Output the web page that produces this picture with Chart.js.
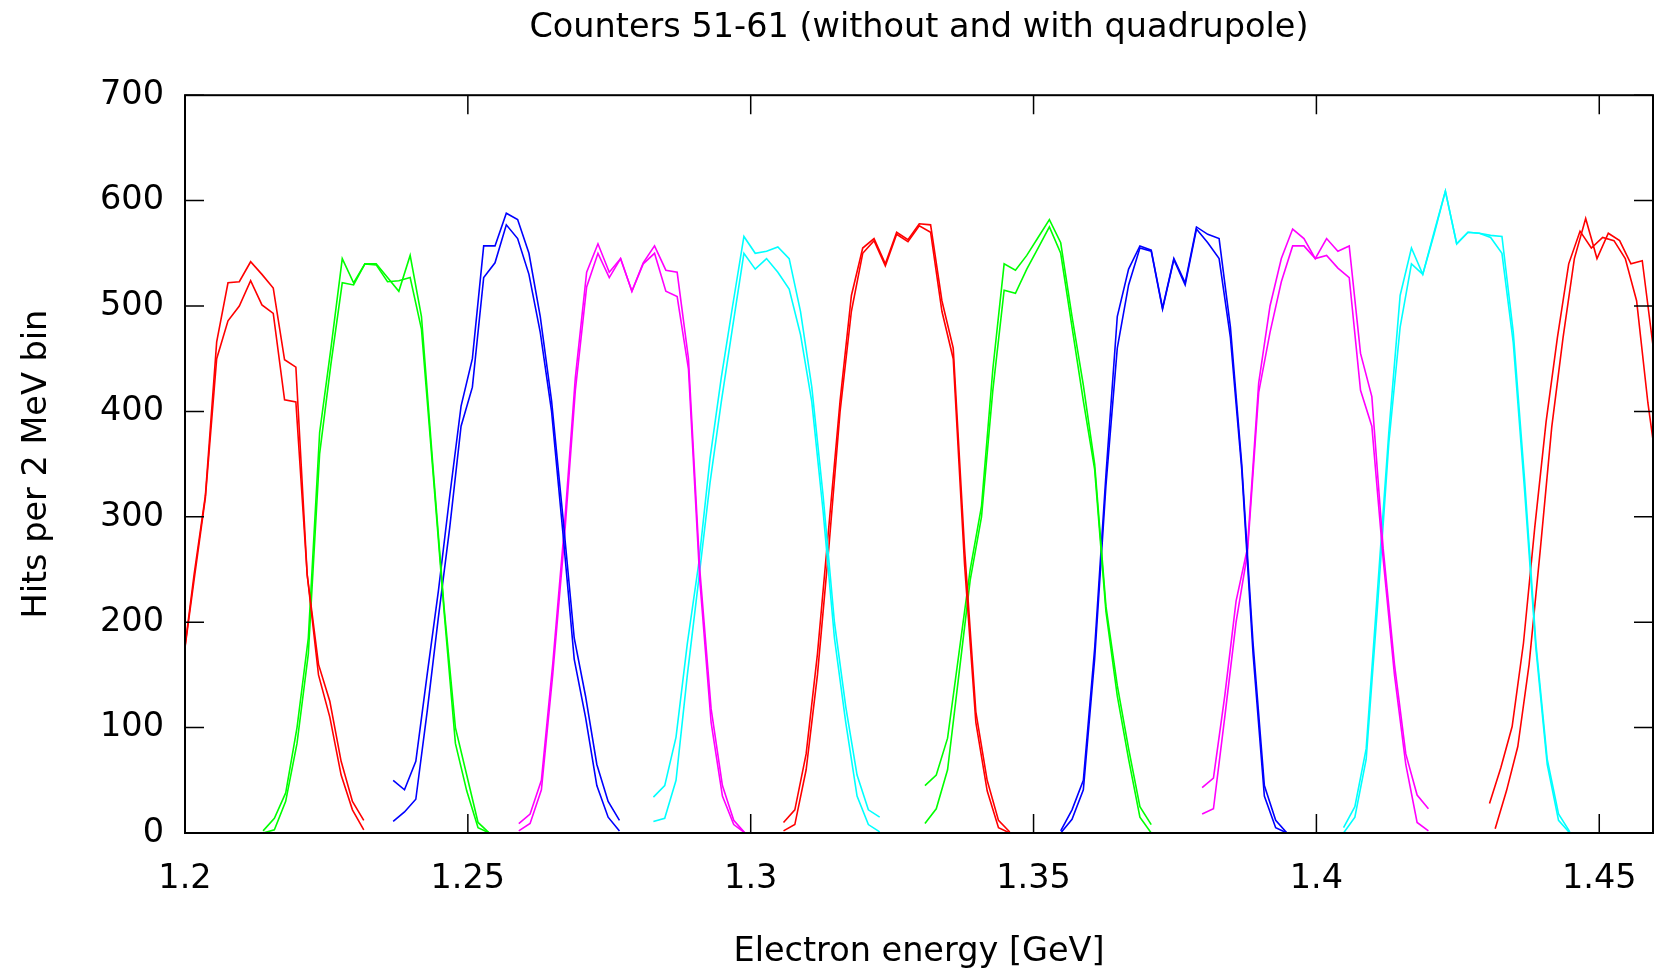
<!DOCTYPE html>
<html>
<head>
<meta charset="utf-8">
<title>Counters 51-61</title>
<script src="https://cdn.jsdelivr.net/npm/chart.js@4.4.1/dist/chart.umd.min.js"></script>
<style>
  html, body { margin: 0; padding: 0; background: #fff; }
</style>
</head>
<body>
<canvas id="myChart" width="1655" height="974"></canvas>
<script>
// data: hits per 2 MeV bin for each counter, without and with quadrupole

const binWidth = 0.002;
const counterNames = ["51", "52", "53", "54", "55", "56", "57", "58", "59", "60", "61"];
// energy of the first bin of each run
const firstBinWithout = [1.1996, 1.2138, 1.2368, 1.2590, 1.2828, 1.3058, 1.3308, 1.3548, 1.3798, 1.4048, 1.4306];
const firstBinWith = [1.1996, 1.2138, 1.2368, 1.2590, 1.2828, 1.3058, 1.3308, 1.3548, 1.3798, 1.4048, 1.4316];
const counterColors = ["#ff0000", "#00ff00", "#0000ff", "#ff00ff", "#00ffff",
  "#ff0000", "#00ff00", "#0000ff", "#ff00ff", "#00ffff", "#ff0000"];

const c51Without = [160, 245, 320, 466, 522, 523, 542, 530, 517, 449, 442, 245, 160, 125, 68, 30, 12];
const c51With = [160, 240, 318, 450, 486, 500, 524, 501, 493, 411, 409, 245, 150, 110, 55, 22, 3];
const c52Without = [2, 14, 38, 100, 185, 380, 460, 545, 522, 540, 540, 527, 514, 548, 490, 350, 214, 100, 55, 10, 0];
const c52With = [0, 3, 30, 85, 170, 360, 445, 522, 520, 540, 539, 523, 524, 527, 478, 345, 210, 85, 40, 5, 0];
const c53Without = [50, 41, 68, 150, 230, 320, 405, 450, 557, 557, 588, 582, 550, 490, 410, 300, 185, 130, 65, 30, 12];
const c53With = [11, 20, 32, 115, 205, 290, 386, 423, 527, 541, 577, 564, 530, 475, 400, 285, 165, 110, 45, 15, 2];
const c54Without = [9, 18, 50, 160, 286, 432, 532, 559, 532, 545, 514, 541, 557, 534, 532, 450, 250, 118, 45, 12, 0];
const c54With = [2, 9, 41, 150, 275, 420, 518, 550, 527, 545, 514, 540, 550, 514, 509, 440, 240, 105, 35, 8, 0];
const c55Without = [34, 45, 91, 180, 255, 355, 432, 500, 566, 550, 552, 556, 545, 495, 423, 320, 200, 120, 55, 22, 15];
const c55With = [11, 14, 50, 150, 240, 332, 409, 480, 550, 535, 545, 532, 516, 473, 409, 305, 185, 105, 35, 8, 1];
const c56Without = [10, 22, 75, 170, 290, 410, 510, 555, 564, 540, 570, 563, 578, 577, 505, 460, 270, 115, 50, 12, 1];
const c56With = [2, 8, 60, 150, 270, 400, 495, 550, 562, 538, 568, 561, 576, 570, 495, 450, 255, 105, 40, 5, 0];
const c57Without = [45, 55, 90, 170, 250, 310, 440, 540, 534, 548, 565, 582, 560, 490, 425, 350, 215, 140, 80, 25, 8];
const c57With = [9, 23, 60, 150, 240, 300, 420, 515, 512, 535, 555, 575, 550, 480, 410, 345, 210, 130, 70, 15, 0];
const c58Without = [2, 22, 50, 175, 340, 490, 535, 557, 553, 498, 545, 522, 575, 568, 564, 480, 350, 180, 45, 12, 0];
const c58With = [0, 13, 41, 165, 330, 460, 520, 555, 552, 497, 544, 520, 573, 560, 545, 470, 345, 170, 35, 5, 0];
const c59Without = [43, 52, 130, 220, 270, 427, 500, 545, 573, 564, 545, 564, 552, 557, 455, 414, 270, 160, 75, 36, 23];
const c59With = [18, 23, 110, 200, 265, 418, 475, 523, 557, 557, 545, 548, 536, 527, 420, 386, 260, 150, 65, 10, 2];
const c60Without = [5, 25, 80, 230, 380, 510, 555, 530, 570, 609, 559, 570, 569, 567, 566, 475, 335, 180, 70, 18, 1];
const c60With = [0, 15, 70, 215, 370, 480, 540, 530, 568, 609, 559, 570, 569, 565, 550, 465, 325, 175, 65, 12, 0];
const c61Without = [28, 62, 101, 180, 290, 390, 470, 540, 571, 555, 565, 562, 545, 505, 408, 330];
const c61With = [4, 40, 82, 160, 270, 385, 470, 545, 583, 545, 569, 562, 540, 543, 458, 380];

const withoutRuns = [c51Without, c52Without, c53Without, c54Without, c55Without, c56Without,
  c57Without, c58Without, c59Without, c60Without, c61Without];
const withRuns = [c51With, c52With, c53With, c54With, c55With, c56With,
  c57With, c58With, c59With, c60With, c61With];

// x axis and y axis ranges
const xMin = 1.2;
const xMax = 1.4595;
const yMin = 0;
const yMax = 700;

// functional logic

// turn one run of bin contents into {x, y} points
function binsToPoints(start, values) {
  return values.map((v, i) => ({ x: start + i * binWidth, y: v }));
}

function makeDataset(label, color, start, values) {
  return {
    label: label,
    data: binsToPoints(start, values),
    borderColor: color,
    backgroundColor: color,
    borderWidth: 1.6,
    pointRadius: 0,
    fill: false,
    tension: 0,
  };
}

let datasets = [];
for (let i = 0; i < counterNames.length; i++) {
  datasets.push(makeDataset(counterNames[i] + " without", counterColors[i], firstBinWithout[i], withoutRuns[i]));
  datasets.push(makeDataset(counterNames[i] + " with", counterColors[i], firstBinWith[i], withRuns[i]));
}

// gnuplot style frame: border plus inward ticks on all four sides
const frameTicks = {
  id: "frameTicks",
  afterDatasetsDraw(chart) {
    const { ctx, chartArea, scales } = chart;
    const len = 19;
    ctx.save();
    ctx.strokeStyle = "#000";
    ctx.lineWidth = 1.5;
    ctx.beginPath();
    scales.x.ticks.forEach((t) => {
      const px = scales.x.getPixelForValue(t.value);
      ctx.moveTo(px, chartArea.bottom);
      ctx.lineTo(px, chartArea.bottom - len);
      ctx.moveTo(px, chartArea.top);
      ctx.lineTo(px, chartArea.top + len);
    });
    scales.y.ticks.forEach((t) => {
      const py = scales.y.getPixelForValue(t.value);
      ctx.moveTo(chartArea.left, py);
      ctx.lineTo(chartArea.left + len, py);
      ctx.moveTo(chartArea.right, py);
      ctx.lineTo(chartArea.right - len, py);
    });
    ctx.stroke();
    ctx.lineWidth = 2;
    ctx.strokeRect(chartArea.left, chartArea.top,
      chartArea.right - chartArea.left, chartArea.bottom - chartArea.top);
    ctx.restore();
  },
};

const fontFamily = "'DejaVu Sans', sans-serif";
const fontSize = 33.5;

const config = {
  type: "line",
  data: { datasets: datasets },
  options: {
    responsive: false,
    animation: false,
    devicePixelRatio: 1,
    layout: { padding: { left: 0, right: 2, top: 0, bottom: 0 } },
    plugins: {
      legend: { display: false },
      tooltip: { enabled: false },
      title: {
        display: true,
        text: "Counters 51-61 (without and with quadrupole)",
        color: "#000",
        fullSize: false,
        font: { family: fontFamily, size: fontSize, weight: "normal" },
        padding: { top: 8, bottom: 47 },
      },
    },
    scales: {
      x: {
        type: "linear",
        min: xMin,
        max: xMax,
        grid: { display: false, drawTicks: false },
        border: { display: false },
        ticks: {
          stepSize: 0.05,
          includeBounds: false,
          color: "#000",
          padding: 26,
          maxRotation: 0,
          font: { family: fontFamily, size: fontSize },
          callback: (v) => String(+v.toFixed(2)),
        },
        title: {
          display: true,
          text: "Electron energy [GeV]",
          color: "#000",
          font: { family: fontFamily, size: fontSize },
          padding: { top: 2, bottom: 2 },
        },
        afterFit: (scale) => {
          scale.height = 141;
          // keep the plot reaching the right edge like the original
          scale.paddingLeft = 0;
          scale.paddingRight = 2;
        },
      },
      y: {
        type: "linear",
        min: yMin,
        max: yMax,
        grid: { display: false, drawTicks: false },
        border: { display: false },
        ticks: {
          stepSize: 100,
          color: "#000",
          padding: 21,
          font: { family: fontFamily, size: fontSize },
        },
        title: {
          display: true,
          text: "Hits per 2 MeV bin",
          color: "#000",
          font: { family: fontFamily, size: fontSize },
          padding: { top: 17, bottom: 17 },
        },
        afterFit: (scale) => { scale.width = 185; },
      },
    },
  },
  plugins: [frameTicks],
};

// executable code
let canvasChart = document.getElementById("myChart").getContext("2d");
const myChart = new Chart(canvasChart, config);
</script>
</body>
</html>
